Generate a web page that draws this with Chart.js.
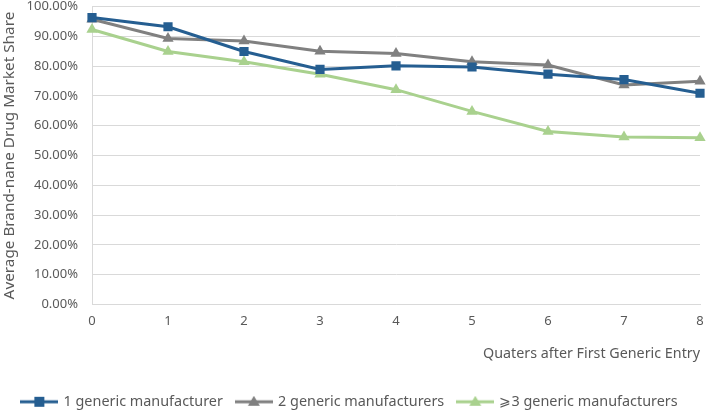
<!DOCTYPE html>
<html>
<head>
<meta charset="utf-8">
<script src="https://cdn.jsdelivr.net/npm/chart.js@4/dist/chart.umd.min.js"></script>
<style>
  html, body { margin: 0; padding: 0; background: #fff; }
  #wrap { width: 708px; height: 412px; }
</style>
</head>
<body>
<div id="wrap"><canvas id="shareChart" width="708" height="412"></canvas></div>
<script>
const quarters = ['0', '1', '2', '3', '4', '5', '6', '7', '8'];
const oneGeneric = [96.3, 93.2, 84.9, 78.9, 80.1, 79.7, 77.3, 75.5, 70.9];
const twoGeneric = [95.7, 89.3, 88.4, 85.0, 84.2, 81.5, 80.4, 73.7, 74.9];
const threePlusGeneric = [92.3, 84.9, 81.5, 77.3, 72.1, 64.8, 58.1, 56.2, 56.0];
const seriesNames = ['1 generic manufacturer', '2 generic manufacturers', '\u2a7e3 generic manufacturers'];

const fontFamily = '"Noto Sans", "Noto Sans CJK SC", sans-serif';
const textColor = '#595959';
const colors = ['#255e91', '#808080', '#a9d18e'];
const markers = ['rect', 'triangle', 'triangle'];

// small line+marker icon for the legend
function legendIcon(color, marker) {
    const c = document.createElement('canvas');
    c.width = 38; c.height = 12;
    const ctx = c.getContext('2d');
    ctx.strokeStyle = color;
    ctx.lineWidth = 3;
    ctx.beginPath();
    ctx.moveTo(0, 6); ctx.lineTo(38, 6);
    ctx.stroke();
    ctx.fillStyle = color;
    if (marker === 'rect') {
        ctx.fillRect(14, 1, 10, 10);
    } else {
        ctx.beginPath();
        ctx.moveTo(19, 0); ctx.lineTo(25, 10); ctx.lineTo(13, 10);
        ctx.closePath(); ctx.fill();
    }
    return c;
}

const ctx = document.getElementById('shareChart').getContext('2d');
new Chart(ctx, {
    type: 'line',
    data: {
        labels: quarters,
        datasets: [oneGeneric, twoGeneric, threePlusGeneric].map((d, i) => ({
            label: seriesNames[i],
            data: d,
            borderColor: colors[i],
            backgroundColor: colors[i],
            borderWidth: 3,
            pointStyle: markers[i],
            pointRadius: 6.5,
            pointBorderWidth: 0,
            tension: 0
        }))
    },
    options: {
        responsive: false,
        animation: false,
        layout: { padding: { left: 0, right: 8, top: 6, bottom: -7 } },
        plugins: {
            legend: {
                position: 'bottom',
                labels: {
                    usePointStyle: true,
                    pointStyleWidth: 34,
                    color: textColor,
                    font: { family: fontFamily, size: 14.4 },
                    padding: 14,
                    generateLabels: (chart) => chart.data.datasets.map((ds, i) => ({
                        text: ds.label,
                        fontColor: textColor,
                        pointStyle: legendIcon(colors[i], markers[i]),
                        datasetIndex: i,
                        hidden: false,
                        lineWidth: 0
                    }))
                }
            },
            tooltip: { enabled: false }
        },
        scales: {
            x: {
                offset: false,
                grid: { display: false, drawTicks: false },
                border: { color: '#d9d9d9', width: 1 },
                ticks: { color: textColor, font: { family: fontFamily, size: 13 }, padding: 9, maxRotation: 0 },
                title: {
                    display: true,
                    align: 'end',
                    text: 'Quaters after First Generic Entry',
                    color: textColor,
                    font: { family: fontFamily, size: 14.3 },
                    padding: { top: 10, bottom: 18 }
                },
                afterFit: (scale) => {
                    scale.height = 76;
                    scale.paddingLeft = 0;
                    scale.paddingRight = 0;
                }
            },
            y: {
                min: 0,
                max: 100,
                grid: { color: '#d9d9d9', drawTicks: true, tickLength: 14, tickColor: 'rgba(0,0,0,0)' },
                border: { color: '#d9d9d9', width: 1 },
                ticks: {
                    stepSize: 10,
                    color: textColor,
                    font: { family: fontFamily, size: 13 },
                    padding: 0,
                    callback: (v) => v.toFixed(2) + '%'
                },
                title: {
                    display: true,
                    text: 'Average Brand-nane Drug Market Share',
                    color: textColor,
                    font: { family: fontFamily, size: 15.3 },
                    padding: { top: 0, bottom: 4 }
                },
                afterFit: (scale) => {
                    scale.width = 92;
                    scale.paddingTop = 0;
                    scale.paddingBottom = 0;
                }
            }
        }
    }
});
</script>
</body>
</html>
